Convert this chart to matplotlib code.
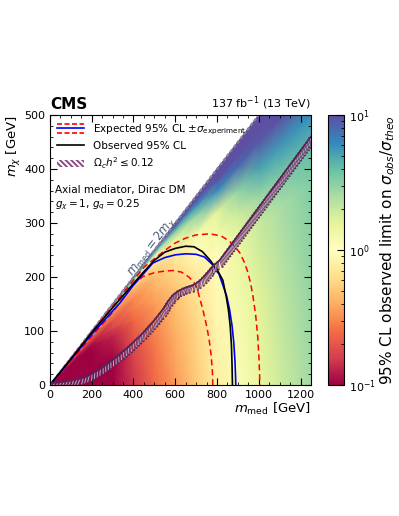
import numpy as np
import matplotlib
matplotlib.use('Agg')
import matplotlib.pyplot as plt
import matplotlib.patheffects as pe
from matplotlib.colors import LogNorm
from matplotlib.lines import Line2D
from matplotlib.patches import Patch
from matplotlib.legend_handler import HandlerBase
from matplotlib.ticker import MultipleLocator

# grid of the limit map: mediator mass nodes and fraction r = m_chi / (m_med/2)
m_nodes = [0, 100, 200, 300, 400, 500, 600, 700, 800, 900, 1000, 1100, 1250]
r_nodes = [0.0, 0.3, 0.6, 0.7, 0.8, 0.9, 0.95, 0.98, 1.0]
limit_grid = [
    [.06, .06, .06, .08, .15, .24, .35, .52, .78, 1.1, 1.45, 1.9, 2.6],
    [.06, .06, .06, .09, .17, .27, .40, .58, .88, 1.2, 1.6, 2.1, 2.9],
    [.07, .07, .08, .13, .24, .35, .50, .75, 1.05, 1.45, 2.0, 2.5, 3.3],
    [.08, .08, .10, .17, .28, .40, .60, .95, 1.3, 1.9, 2.8, 3.4, 4.2],
    [.10, .10, .13, .20, .30, .46, .75, 1.25, 1.6, 3.0, 5.0, 5.5, 6.0],
    [.15, .20, .25, .35, .45, .70, 1.5, 3.0, 6.0, 8.0, 9.0, 10, 11],
    [.6, .8, 1.0, 1.05, 1.05, 1.1, 3.5, 6.0, 9.5, 11, 12, 13, 14],
    [3, 3, 3, 3.2, 3.5, 4, 8, 10, 13, 14, 15, 16, 16],
    [20, 20, 20, 20, 20, 20, 20, 20, 20, 20, 20, 20, 20],
]

# contours (m_med, m_chi)
obs_med = [0, 100, 200, 300, 400, 450, 500, 550, 600, 650, 690, 730, 765, 800, 828, 845, 855, 863, 869, 872, 874]
obs_chi = [0, 48, 97, 143, 188, 210, 231, 246, 253, 257, 256, 247, 232, 214, 194, 162, 138, 110, 75, 38, 0]
exp_med = [0, 100, 200, 335, 400, 450, 493, 550, 600, 650, 700, 740, 781, 810, 828, 846, 860, 872, 880, 886, 889, 890]
exp_chi = [0, 47, 94, 152, 185, 207, 226, 236, 241, 243, 242, 237, 222, 205, 185, 165, 140, 110, 80, 45, 15, 0]
exp_up_med = [0, 100, 200, 320, 450, 520, 560, 600, 650, 700, 766, 820, 861, 890, 909, 930,
              945, 960, 972, 985, 995, 1001, 1004, 1005]
exp_up_chi = [0, 49, 98, 155, 218, 240, 252, 263, 272, 278, 280, 276, 266, 254, 245, 228,
              212, 190, 165, 130, 90, 50, 20, 0]
exp_dn_med = [0, 100, 200, 300, 340, 370, 410, 446, 500, 550, 590, 630, 665, 690, 705, 718,
              735, 750, 762, 772, 778, 780]
exp_dn_chi = [0, 45, 90, 135, 155, 172, 190, 201, 208, 211, 212, 209, 200, 190, 178, 160,
              135, 110, 85, 55, 25, 0]
relic_med = [0, 50, 100, 150, 190, 250, 320, 380, 445, 500, 541, 565, 588, 610, 635, 655,
             680, 700, 720, 740, 760, 780, 813, 1250]
relic_chi = [3, 5, 8, 12, 18, 32, 52, 72, 96, 120, 140, 155, 166, 173, 178, 181,
             184, 188, 194, 202, 211, 220, 231, 460]

fig = plt.figure(figsize=(3.99, 5.16), dpi=100)
ax = fig.add_axes([0.1253, 0.2539, 0.654, 0.5232])
cax = fig.add_axes([0.822, 0.2539, 0.040, 0.5232])

M, R = np.meshgrid(np.array(m_nodes, float), np.array(r_nodes))
Y = R * M / 2
mesh = ax.pcolormesh(M, Y, np.array(limit_grid), shading='gouraud', cmap='Spectral',
                     norm=LogNorm(0.1, 10), rasterized=True)

diag = np.array([0, 1250.0])
ax.plot(diag, diag / 2, color='#8c8494', lw=1.6, ls=(0, (1.5, 1)))

ax.plot(exp_up_med, exp_up_chi, color='red', ls=(0, (4, 2.5)), lw=1.1)
ax.plot(exp_dn_med, exp_dn_chi, color='red', ls=(0, (4, 2.5)), lw=1.1)
ax.plot(exp_med, exp_chi, color='blue', lw=1.2)
ax.plot(obs_med, obs_chi, color='black', lw=1.2)
# relic density line with outlined hatch ticks below it
ax.plot(relic_med, relic_chi, color='#5a2452', lw=1.0,
        path_effects=[pe.withTickedStroke(angle=-125, spacing=2.3, length=2.3,
                                          linewidth=1.5, foreground='#5a2452'),
                      pe.withTickedStroke(angle=-125, spacing=2.3, length=2.0,
                                          linewidth=0.7, foreground='#c7a3cf'),
                      pe.Normal()])

ax.set_xlim(0, 1250)
ax.set_ylim(0, 500)
ax.xaxis.set_major_locator(MultipleLocator(200))
ax.xaxis.set_minor_locator(MultipleLocator(50))
ax.yaxis.set_major_locator(MultipleLocator(100))
ax.yaxis.set_minor_locator(MultipleLocator(20))
ax.tick_params(which='both', direction='in', top=True, right=True, labelsize=8)
ax.tick_params(which='major', length=5)
ax.tick_params(which='minor', length=2.5)
ax.set_xlabel(r'$m_{\rm med}$ [GeV]', fontsize=9.5, loc='right', labelpad=1)
ax.set_ylabel(r'$m_{\chi}$ [GeV]', fontsize=9.5, loc='top', labelpad=1)

# text along the kinematic limit
p1 = ax.transData.transform((0, 0))
p2 = ax.transData.transform((1000, 500))
ang = np.degrees(np.arctan2(p2[1] - p1[1], p2[0] - p1[0]))
ax.text(488, 256, r'$m_{\rm med} = 2m_{\chi}$', rotation=ang, color='#4d5a78',
        fontsize=8.5, ha='center', va='center', rotation_mode='anchor')

fig.text(0.1253, 0.782, 'CMS', fontsize=11, fontweight='bold', ha='left', va='bottom')
fig.text(0.7794, 0.782, r'137 fb$^{-1}$ (13 TeV)', fontsize=8, ha='right', va='bottom')
ax.text(0.02, 0.74, 'Axial mediator, Dirac DM\n' + r'$g_{\chi} = 1$, $g_{q} = 0.25$',
        transform=ax.transAxes, fontsize=7.5, ha='left', va='top', linespacing=1.2)


class ThreeLines(HandlerBase):
    def create_artists(self, legend, orig_handle, xdescent, ydescent, width, height, fontsize, trans):
        arts = []
        for frac, color, ls in [(1.1, 'red', (0, (3, 1.5))), (0.5, 'blue', '-'), (-0.1, 'red', (0, (3, 1.5)))]:
            y = height * frac - ydescent
            arts.append(Line2D([-xdescent, width - xdescent], [y, y], color=color, ls=ls,
                               lw=1.2, transform=trans))
        return arts


plt.rcParams['hatch.linewidth'] = 1.4
band = Line2D([], [])
hatch = Patch(facecolor='white', edgecolor='#8a4a82', hatch='\\\\\\\\\\\\', lw=0)
obs = Line2D([], [], color='black', lw=1.2)
ax.legend([band, obs, hatch],
          [r'Expected 95% CL $\pm\sigma_{\rm experiment}$', 'Observed 95% CL',
           r'$\Omega_c h^2 \leq 0.12$'],
          handler_map={band: ThreeLines()}, loc='upper left', frameon=False,
          fontsize=7.5, handlelength=2.6, handletextpad=0.8, labelspacing=0.4,
          borderaxespad=0.3, bbox_to_anchor=(0.0, 1.0))

cb = fig.colorbar(mesh, cax=cax)
cb.outline.set_linewidth(0.8)
cax.tick_params(which='both', direction='in', labelsize=8)
cax.tick_params(which='major', length=5)
cax.tick_params(which='minor', length=2.5)
cb.set_label(r'95% CL observed limit on $\sigma_{obs}/\sigma_{theo}$', fontsize=11, labelpad=2)

fig.savefig('out.png', dpi=100)
